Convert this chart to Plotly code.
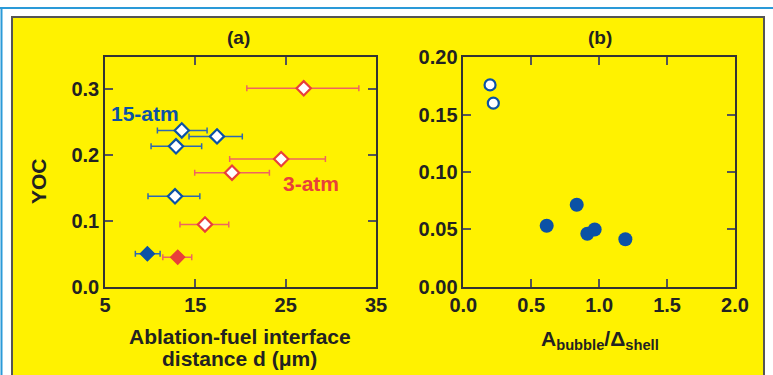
import plotly.graph_objects as go

# ---- data: panel (a) ----
red_open_x = [27.0, 24.5, 19.06, 16.07]
red_open_y = [0.301, 0.1935, 0.1728, 0.0942]
red_open_xlo = [20.7, 18.8, 14.93, 13.3]
red_open_xhi = [33.1, 29.4, 23.2, 18.7]

red_fill_x = [13.05]
red_fill_y = [0.0446]
red_fill_xlo = [11.4]
red_fill_xhi = [14.6]

blue_open_x = [13.5, 17.4, 12.86, 12.75]
blue_open_y = [0.237, 0.228, 0.213, 0.137]
blue_open_xlo = [10.8, 14.3, 10.1, 9.76]
blue_open_xhi = [16.3, 20.2, 15.7, 15.5]

blue_fill_x = [9.69]
blue_fill_y = [0.0497]
blue_fill_xlo = [8.36]
blue_fill_xhi = [11.1]

# ---- data: panel (b) ----
b_open_x = [0.197, 0.221]
b_open_y = [0.176, 0.160]
b_fill_x = [0.614, 0.835, 0.913, 0.967, 1.193]
b_fill_y = [0.053, 0.0713, 0.046, 0.0497, 0.0413]

a_xticks = [5, 15, 25, 35]
a_yticks = [0.0, 0.1, 0.2, 0.3]
b_xticks = [0.0, 0.5, 1.0, 1.5, 2.0]
b_yticks = [0.00, 0.05, 0.10, 0.15, 0.20]

RED = "#E8403A"
RED_BAR = "#EE6560"
BLUE = "#0B52A6"
BLUE_BAR = "#2D68B2"
YELLOW = "#FFF200"
FONT = "Liberation Sans"

fig = go.Figure()


def err(x, lo, hi):
    return dict(type="data", symmetric=False,
                array=[h - v for v, h in zip(x, hi)],
                arrayminus=[v - l for v, l in zip(x, lo)])


def add_err_trace(x, y, lo, hi, color, barcolor, is_open):
    e = err(x, lo, hi)
    e.update(color=barcolor, thickness=1.5, width=3)
    fig.add_trace(go.Scatter(
        x=x, y=y, mode="markers", error_x=e,
        marker=dict(symbol="diamond", size=11,
                    color="white" if is_open else color,
                    line=dict(color=color, width=2.2 if is_open else 1.2)),
        xaxis="x", yaxis="y", showlegend=False))


add_err_trace(red_open_x, red_open_y, red_open_xlo, red_open_xhi, RED, RED_BAR, True)
add_err_trace(red_fill_x, red_fill_y, red_fill_xlo, red_fill_xhi, RED, RED_BAR, False)
add_err_trace(blue_open_x, blue_open_y, blue_open_xlo, blue_open_xhi, BLUE, BLUE_BAR, True)
add_err_trace(blue_fill_x, blue_fill_y, blue_fill_xlo, blue_fill_xhi, BLUE, BLUE_BAR, False)

fig.add_trace(go.Scatter(
    x=b_open_x, y=b_open_y, mode="markers",
    marker=dict(symbol="circle", size=11, color="white", line=dict(color=BLUE, width=2.2)),
    xaxis="x2", yaxis="y2", showlegend=False))
fig.add_trace(go.Scatter(
    x=b_fill_x, y=b_fill_y, mode="markers",
    marker=dict(symbol="circle", size=14, color=BLUE, line=dict(width=0)),
    xaxis="x2", yaxis="y2", showlegend=False))

axis_common = dict(showline=True, linecolor="#333333", linewidth=1.5, mirror="ticks",
                   ticks="inside", ticklen=8, tickwidth=1.5, tickcolor="#555555",
                   showgrid=False, zeroline=False, automargin=False,
                   tickfont=dict(family=FONT, size=20, color="#222222", weight="bold"))

ydom = [0.236, 0.847]
fig.update_layout(
    width=773, height=375,
    margin=dict(l=0, r=0, t=0, b=0, pad=0, autoexpand=False),
    paper_bgcolor="white", plot_bgcolor="white",
    xaxis=dict(domain=[105 / 773, 376 / 773], range=[5, 35], tickvals=a_xticks,
               ticktext=[str(v) for v in a_xticks], anchor="y", **axis_common),
    yaxis=dict(domain=ydom, range=[0, 0.348], tickvals=a_yticks,
               ticktext=[f"{v:.1f}" for v in a_yticks], anchor="x", **axis_common),
    xaxis2=dict(domain=[463.3 / 773, 735 / 773], range=[0, 2.0], tickvals=b_xticks,
                ticktext=[f"{v:.1f}" for v in b_xticks], anchor="y2", **axis_common),
    yaxis2=dict(domain=ydom, range=[0, 0.2], tickvals=b_yticks,
                ticktext=[f"{v:.2f}" for v in b_yticks], anchor="x2", **axis_common),
)

# background frame shapes
fig.add_shape(type="rect", xref="paper", yref="paper", x0=12 / 773, x1=764 / 773,
              y0=-0.05, y1=1 - 17 / 375, fillcolor=YELLOW,
              line=dict(color="#555555", width=2), layer="below")
fig.add_shape(type="line", xref="paper", yref="paper", x0=0, x1=1,
              y0=1 - 8 / 375, y1=1 - 8 / 375, line=dict(color="#2A9AD8", width=2))
fig.add_shape(type="line", xref="paper", yref="paper", x0=1.5 / 773, x1=1.5 / 773,
              y0=0, y1=1 - 8 / 375, line=dict(color="#2A9AD8", width=2))

def ann(text, x, y, size=18, color="#222222", xanchor="center", angle=0):
    fig.add_annotation(text=text, x=x / 773, y=1 - y / 375, xref="paper", yref="paper",
                       showarrow=False, xanchor=xanchor, yanchor="middle", textangle=angle,
                       font=dict(family=FONT, size=size, color=color, weight="bold"))

ann("(a)", 238, 38, size=19)
ann("(b)", 600, 38, size=19)
ann("15-atm", 109, 113, size=21, color=BLUE, xanchor="left")
ann("3-atm", 311, 183, size=21, color=RED)
ann("YOC", 38, 181, size=21, angle=-90)
ann("Ablation-fuel interface", 240, 336, size=21)
ann("distance d (μm)", 240, 358, size=21)
ann("A<sub>bubble</sub>/Δ<sub>shell</sub>", 600, 340, size=21)

fig.write_html("out.html", config={"displayModeBar": False},
               post_script="document.body.style.margin='0';document.body.style.overflow='hidden';")
